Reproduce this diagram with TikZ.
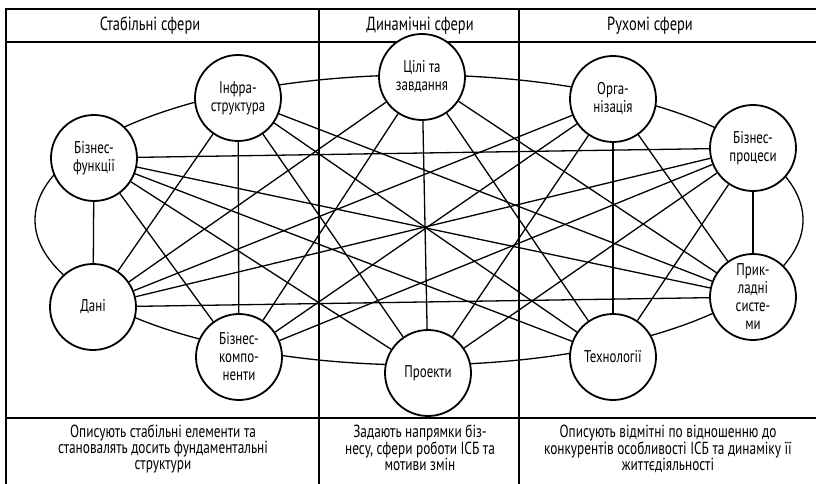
\documentclass[tikz,border=0pt]{standalone}
\usepackage{fontspec}
\setmainfont{PT Sans}[FakeStretch=0.76]

\begin{document}
\begin{tikzpicture}[x=1pt,y=-1pt,line width=1.3pt,
    sph/.style={circle,draw,fill=white,line width=1.8pt,minimum size=86pt,inner sep=0pt,
      align=center,font=\fontsize{17}{18}\selectfont},
    hd/.style={font=\fontsize{19}{20}\selectfont},
    nt/.style={align=center,anchor=north,font=\fontsize{17.5}{16}\selectfont}]
  \useasboundingbox (0,0) rectangle (816,484);
  % table frame
  \draw[line width=1.6pt] (6,9) rectangle (822,490);
  \draw[line width=1.6pt] (6,42) -- (822,42) (6,418) -- (822,418)
    (319,9) -- (319,490) (519,9) -- (519,490);
  \node[hd] (hst) at (150,26) {Стабільні сфери};
  \node[hd] (hdyn) at (420,26) {Динамічні сфери};
  \node[hd] (hrukh) at (650,26) {Рухомі сфери};
  \node[nt] (tst) at (163,421) {Описують стабільні елементи та\\становалять досить фундаментальні\\структури};
  \node[nt] (tdyn) at (420,421) {Задають напрямки біз-\\несу, сфери роботи ІСБ та\\мотиви змін};
  \node[nt] (trukh) at (668,421) {Описують відмітні по відношенню до\\конкурентів особливості ІСБ та динаміку її\\життєдіяльності};
  % outer ring
  \draw (419,220) ellipse [x radius=384, y radius=145];
  \node[sph] (inf) at (238,98) {Інфра-\\структура};
  \node[sph] (bf) at (94,158) {Бізнес-\\функції};
  \node[sph] (dan) at (93,307) {Дані};
  \node[sph] (bk) at (239,357) {Бізнес-\\компо-\\ненти};
  \node[sph] (cz) at (422,77) {Цілі та\\завдання};
  \node[sph] (pr) at (428,373) {Проекти};
  \node[sph] (org) at (613,99) {Орга-\\нізація};
  \node[sph] (bp) at (753,148) {Бізнес-\\процеси};
  \node[sph] (ps) at (753,297) {Прик-\\ладні\\систе-\\ми};
  \node[sph] (teh) at (613,357) {Технології};
  % links between spheres
  \foreach \a/\b in {inf/dan,inf/bk,inf/pr,inf/teh,inf/ps,
      bf/dan,bf/bk,bf/bp,bf/ps,bf/teh,bf/pr,
      dan/cz,dan/org,dan/bp,dan/ps,
      bk/cz,bk/org,bk/bp,
      cz/pr,cz/teh,cz/ps,
      org/pr,org/teh,org/ps,
      bp/teh,bp/pr,bp/ps}
    \draw (\a) -- (\b);
\end{tikzpicture}
\end{document}
